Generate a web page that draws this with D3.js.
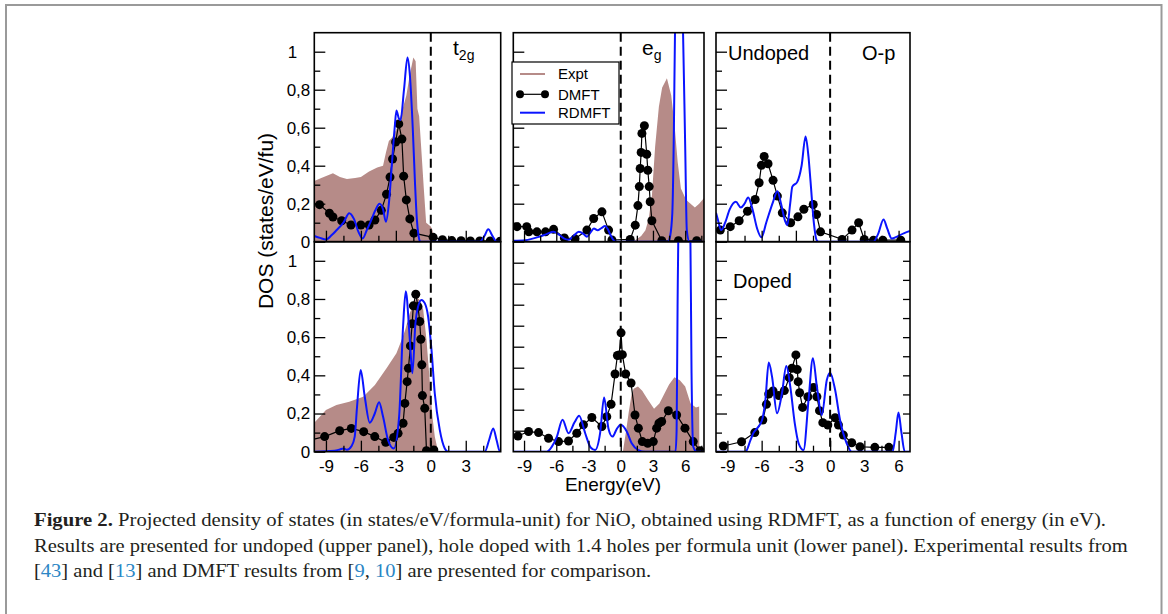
<!DOCTYPE html>
<html>
<head>
<meta charset="utf-8">
<script src="https://cdn.jsdelivr.net/npm/d3@7"></script>
<style>body{margin:0;background:#fff}</style>
</head>
<body>
<script>
// Energy (eV), DOS (states/eV/fu) pairs

// t2g, undoped
const t2gUndopedExpt = [[-10,0.32],[-9.4,0.335],[-8.4,0.36],[-7.8,0.34],[-7.2,0.33],[-6.5,0.335],[-6.0,0.34],[-5.3,0.37],[-4.6,0.39],[-4.1,0.40],[-3.85,0.47],[-3.6,0.53],[-3.3,0.55],[-2.9,0.60],[-2.5,0.68],[-2.1,0.77],[-1.8,0.88],[-1.5,0.97],[-1.3,0.95],[-1.15,0.70],[-1.0,0.66],[-0.85,0.52],[-0.6,0.28],[-0.4,0.10],[0.0,0.08],[0.15,0.06],[0.25,0],[6,0]];
const t2gUndopedRdmft = [[-10,0.03],[-9.5,0.02],[-9.0,0.012],[-8.5,0.035],[-8.1,0.06],[-7.5,0.1],[-7.0,0.15],[-6.6,0.12],[-6.2,0.05],[-5.85,0.017],[-5.5,0.06],[-5.2,0.1],[-4.8,0.16],[-4.4,0.2],[-4.1,0.17],[-3.85,0.105],[-3.6,0.2],[-3.35,0.4],[-3.1,0.6],[-2.95,0.69],[-2.75,0.65],[-2.6,0.64],[-2.3,0.8],[-2.0,0.97],[-1.8,0.88],[-1.55,0.6],[-1.35,0.3],[-1.2,0.12],[-1.05,0.03],[-0.9,0],[4.2,0],[4.6,0.03],[4.93,0.065],[5.3,0.03],[5.65,0],[6,0]];
const t2gUndopedDmft = [[-10.4,0.205],[-9.55,0.195],[-8.7,0.15],[-8.4,0.13],[-7.65,0.11],[-6.85,0.088],[-6.0,0.088],[-5.3,0.088],[-4.8,0.114],[-4.25,0.165],[-3.8,0.25],[-3.5,0.34],[-3.28,0.435],[-3.02,0.525],[-2.75,0.62],[-2.48,0.54],[-2.33,0.345],[-2.1,0.22],[-1.8,0.12],[-1.45,0.045],[0.2,0.023],[1.0,0.01],[1.8,0.006],[2.6,0.005],[3.4,0.004],[4.2,0.004],[5.1,0.004],[5.95,0.003]];

// eg, undoped
const egUndopedExpt = [[-10,0],[1.0,0],[1.4,0.01],[1.9,0.03],[2.3,0.06],[2.6,0.12],[2.9,0.24],[3.2,0.5],[3.55,0.71],[3.85,0.81],[4.3,0.86],[4.7,0.77],[5.0,0.62],[5.3,0.42],[5.6,0.28],[6.1,0.22],[6.5,0.2],[6.9,0.18],[7.3,0.2],[7.75,0.23]];
const egUndopedRdmft = [[-10,0.005],[-8.9,0.008],[-7.6,0.026],[-6.9,0.04],[-6.25,0.052],[-5.7,0.035],[-5.3,0.017],[-4.85,0.01],[-4.4,0.03],[-3.9,0.052],[-3.45,0.04],[-3.15,0.026],[-2.8,0.05],[-2.5,0.07],[-2.15,0.06],[-1.8,0.072],[-1.45,0.082],[-1.2,0.065],[-0.95,0.035],[-0.7,0.01],[-0.5,0],[4.4,0],[4.6,0.03],[4.8,0.15],[4.95,0.6],[5.05,1.1],[5.45,1.7],[5.8,1.1],[6.0,0.5],[6.15,0.06],[6.4,0],[7.75,0]];
const egUndopedDmft = [[-10.4,0.079],[-9.65,0.079],[-8.75,0.079],[-8.55,0.052],[-7.8,0.052],[-7.0,0.052],[-6.25,0.065],[-5.25,0.02],[-4.25,0.015],[-3.15,0.061],[-2.52,0.122],[-1.75,0.157],[-1.13,0.061],[-0.82,0.009],[0.88,0.012],[1.35,0.087],[1.6,0.19],[1.73,0.29],[1.81,0.385],[1.9,0.47],[1.97,0.57],[2.2,0.61],[2.42,0.46],[2.52,0.376],[2.65,0.29],[2.74,0.21],[2.9,0.11],[3.82,0.005],[5.37,0.005],[7.07,0.005]];

// O-p, undoped (no experiment)
const opUndopedRdmft = [[-10,0.152],[-9.85,0.12],[-9.55,0.061],[-9.2,0.1],[-8.8,0.17],[-8.26,0.21],[-7.82,0.18],[-7.5,0.2],[-7.18,0.233],[-6.8,0.17],[-6.4,0.07],[-6.02,0.023],[-5.6,0.1],[-5.0,0.21],[-4.62,0.266],[-4.3,0.2],[-3.95,0.11],[-3.75,0.087],[-3.5,0.2],[-3.31,0.29],[-2.88,0.315],[-2.5,0.4],[-2.15,0.554],[-1.9,0.45],[-1.72,0.32],[-1.42,0.096],[-1.19,0.009],[-1.0,0],[3.8,0],[4.2,0.04],[4.68,0.117],[5.0,0.07],[5.4,0.017],[5.8,0.025],[6.13,0.035],[6.5,0.045],[7,0.056]];
const opUndopedDmft = [[-9.62,0.061],[-8.75,0.079],[-7.97,0.11],[-7.24,0.16],[-6.57,0.222],[-6.22,0.31],[-6.02,0.402],[-5.78,0.449],[-5.44,0.41],[-5.0,0.323],[-4.62,0.24],[-4.19,0.152],[-3.46,0.10],[-2.82,0.131],[-2.3,0.171],[-1.48,0.196],[-1.19,0.143],[-0.84,0.052],[1.05,0.012],[1.92,0.061],[2.5,0.1],[2.99,0.012],[3.8,0.008],[4.62,0.008],[6.19,0.008]];

// t2g, doped
const t2gDopedExpt = [[-10,0.152],[-9,0.218],[-8.1,0.245],[-7,0.262],[-5.8,0.288],[-4.8,0.35],[-3.8,0.437],[-2.95,0.516],[-2.5,0.586],[-2.2,0.638],[-1.8,0.726],[-1.45,0.778],[-1.2,0.81],[-0.95,0.795],[-0.65,0.743],[-0.37,0.586],[-0.1,0.376],[0.14,0.184],[0.34,0.079],[0.63,0],[6,0]];
const t2gDopedRdmft = [[-10,0],[-8.25,0.005],[-7.8,0.012],[-7.5,0.017],[-7.2,0.01],[-6.8,0.03],[-6.53,0.079],[-6.33,0.236],[-6.02,0.428],[-5.67,0.288],[-5.24,0.152],[-4.81,0.2],[-4.44,0.259],[-4.1,0.184],[-3.67,0.061],[-3.18,0.017],[-2.72,0.184],[-2.38,0.656],[-2.15,0.84],[-1.8,0.586],[-1.58,0.411],[-1.32,0.673],[-1.09,0.76],[-0.8,0.795],[-0.52,0.778],[-0.23,0.708],[0.06,0.533],[0.34,0.306],[0.77,0.114],[1.2,0.017],[1.49,0],[4.64,0],[5.0,0.06],[5.36,0.122],[5.65,0.06],[5.93,0],[6,0]];
const t2gDopedDmft = [[-10.4,0.06],[-9.11,0.079],[-7.82,0.11],[-6.82,0.122],[-5.76,0.105],[-4.81,0.079],[-3.87,0.049],[-3.18,0.075],[-2.81,0.096],[-2.38,0.149],[-2.23,0.253],[-2.03,0.367],[-1.92,0.437],[-1.75,0.554],[-1.6,0.67],[-1.5,0.764],[-1.29,0.825],[-1.1,0.76],[-0.95,0.682],[-0.86,0.589],[-0.77,0.455],[-0.72,0.294],[-0.52,0.227],[-0.37,0.005],[0.26,0.009]];

// eg, doped (this panel's axis runs 0..1)
const egDopedExpt = [[-10,0],[0.2,0],[0.5,0.1],[0.75,0.19],[1.0,0.27],[1.2,0.3],[1.6,0.31],[2.0,0.29],[2.5,0.25],[3.1,0.205],[3.6,0.23],[4.0,0.27],[4.5,0.32],[5.0,0.355],[5.5,0.34],[6.0,0.31],[6.5,0.23],[7.0,0.21],[7.3,0.215],[7.32,0],[7.75,0]];
const egDopedRdmft = [[-10,0],[-6.87,0],[-6.41,0.024],[-5.94,0.072],[-5.42,0.152],[-4.86,0.088],[-4.3,0.14],[-3.87,0.171],[-3.31,0.088],[-2.8,0.02],[-2.38,0.008],[-1.92,0.088],[-1.55,0.258],[-1.15,0.112],[-0.77,0.072],[-0.35,0.11],[0,0.128],[0.56,0.096],[1.02,0.04],[1.64,0.008],[2.26,0],[5.1,0],[5.2,0.1],[5.29,0.69],[5.4,1.2],[6.0,1.6],[6.45,1.2],[6.59,0.375],[6.75,0.024],[7.06,0],[7.75,0]];
const egDopedDmft = [[-10.4,0.07],[-9.57,0.075],[-8.58,0.096],[-7.65,0.091],[-6.72,0.064],[-5.79,0.048],[-4.86,0.051],[-4.09,0.088],[-3.47,0.128],[-2.69,0.163],[-1.76,0.12],[-1.3,0.167],[-0.9,0.226],[-0.53,0.37],[-0.31,0.458],[-0.15,0.46],[0.03,0.566],[0.15,0.462],[0.46,0.37],[0.96,0.327],[1.33,0.175],[1.64,0.112],[2.01,0.048],[2.51,0.04],[3.03,0.048],[3.34,0.112],[3.56,0.136],[3.81,0.144],[4.43,0.195],[5.2,0.175],[5.98,0.112],[6.75,0.048],[7.37,0.005]];

// O-p, doped
const opDopedRdmft = [[-10,0],[-7.41,0],[-6.98,0.061],[-6.7,0.1],[-6.4,0.122],[-5.96,0.166],[-5.67,0.271],[-5.38,0.467],[-5.09,0.393],[-4.65,0.201],[-4.22,0.306],[-3.84,0.449],[-3.49,0.341],[-3.1,0.15],[-2.76,0.044],[-2.33,0.009],[-1.89,0.271],[-1.51,0.49],[-1.16,0.341],[-0.73,0.192],[-0.29,0.376],[0,0.414],[0.44,0.323],[0.87,0.166],[1.45,0.044],[1.89,0],[5.47,0],[5.75,0.1],[5.99,0.205],[6.25,0.1],[6.54,0],[7,0]];
const opDopedDmft = [[-9.36,0.03],[-7.76,0.052],[-6.6,0.1],[-5.9,0.166],[-5.58,0.248],[-5.38,0.302],[-5.0,0.318],[-4.5,0.294],[-4.01,0.32],[-3.58,0.388],[-3.34,0.437],[-3.0,0.507],[-2.88,0.43],[-2.8,0.367],[-2.67,0.309],[-2.41,0.232],[-1.95,0.288],[-1.45,0.336],[-1.16,0.288],[-0.93,0.215],[-0.64,0.152],[-0.2,0.14],[0.44,0.178],[0.73,0.14],[1.16,0.087],[1.89,0.047],[2.62,0.026],[3.92,0.023],[5.15,0.023]];

// tick values
const xMajor = [-9, -6, -3, 0, 3, 6];
const xMinor = [-7.5, -4.5, -1.5, 1.5, 4.5, 7.5];
const yMajor = [0, 0.2, 0.4, 0.6, 0.8, 1];
const yMinor = [0.1, 0.3, 0.5, 0.7, 0.9];
const yTenths = [0.1, 0.2, 0.3, 0.4, 0.5, 0.6, 0.7, 0.8, 0.9];

const legendItems = ["Expt", "DMFT", "RDMFT"];

const exptColor = "#b68b88",
      rdColor = "#0a14ff";

let width = 1168, height = 614;
const sans = '"Liberation Sans", Arial, sans-serif';

let svg = d3.select('body').append('svg')
    .attr('width', width)
    .attr('height', height)
    .style('font-family', sans);

// outer figure frame
svg.append('rect')
    .attr('x', 6).attr('y', 5)
    .attr('width', 1155.5).attr('height', 700)
    .attr('fill', 'none')
    .attr('stroke', '#9a9a9a')
    .attr('stroke-width', 2);

// panel geometry
const cols = [
    {left: 314.3, right: 500.7, dom: [-10, 6]},
    {left: 513.3, right: 704, dom: [-10, 7.75]},
    {left: 716, right: 910, dom: [-10, 7]}
];
const rows = [{top: 32.7, bottom: 241.7}, {top: 241.7, bottom: 451.7}];

const panels = [
    {row: 0, col: 0, expt: t2gUndopedExpt, rd: t2gUndopedRdmft, dmft: t2gUndopedDmft, yMax: 1.1},
    {row: 0, col: 1, expt: egUndopedExpt, rd: egUndopedRdmft, dmft: egUndopedDmft, yMax: 1.1},
    {row: 0, col: 2, expt: null, rd: opUndopedRdmft, dmft: opUndopedDmft, yMax: 1.1},
    {row: 1, col: 0, expt: t2gDopedExpt, rd: t2gDopedRdmft, dmft: t2gDopedDmft, yMax: 1.1},
    {row: 1, col: 1, expt: egDopedExpt, rd: egDopedRdmft, dmft: egDopedDmft, yMax: 1.0, tenths: true},
    {row: 1, col: 2, expt: null, rd: opDopedRdmft, dmft: opDopedDmft, yMax: 1.1, rightTicks: true}
];

const fmtY = d => d === 0 ? '0' : d === 1 ? '1' : d3.format('.1f')(d).replace('.', ',');

function styleAxis(g) {
    g.select('.domain').remove();
    g.selectAll('.tick line').attr('stroke', '#000').attr('stroke-width', 1.3);
    g.selectAll('.tick text').attr('fill', '#000');
    g.attr('font-size', 17).attr('font-family', sans);
}

panels.forEach((p, i) => {
    const c = cols[p.col], r = rows[p.row];
    const x = d3.scaleLinear().domain(c.dom).range([c.left, c.right]);
    const y = d3.scaleLinear().domain([0, p.yMax]).range([r.bottom, r.top]);

    svg.append('clipPath').attr('id', 'clip' + i)
        .append('rect')
        .attr('x', c.left).attr('y', r.top)
        .attr('width', c.right - c.left).attr('height', r.bottom - r.top);

    const g = svg.append('g').attr('clip-path', `url(#clip${i})`);

    // experiment, shaded
    if (p.expt) {
        g.append('path')
            .datum(p.expt)
            .attr('d', d3.area().x(d => x(d[0])).y0(y(0)).y1(d => y(d[1])))
            .attr('fill', exptColor);
    }

    // DMFT, line + dots
    g.append('path')
        .datum(p.dmft)
        .attr('d', d3.line().x(d => x(d[0])).y(d => y(d[1])))
        .attr('fill', 'none')
        .attr('stroke', '#000')
        .attr('stroke-width', 1.2);
    g.selectAll('circle.dm')
        .data(p.dmft)
        .enter().append('circle')
        .attr('class', 'dm')
        .attr('cx', d => x(d[0]))
        .attr('cy', d => y(d[1]))
        .attr('r', 4.5)
        .attr('fill', '#000');

    // RDMFT, smooth line
    g.append('path')
        .datum(p.rd)
        .attr('d', d3.line().x(d => x(d[0])).y(d => y(d[1])).curve(d3.curveMonotoneX))
        .attr('fill', 'none')
        .attr('stroke', rdColor)
        .attr('stroke-width', 2);

    // Fermi level
    svg.append('line')
        .attr('x1', x(0)).attr('x2', x(0))
        .attr('y1', r.top).attr('y2', r.bottom)
        .attr('stroke', '#000')
        .attr('stroke-width', 2)
        .attr('stroke-dasharray', '9,5');

    // x ticks (inside), labels on the lower row only
    const xm = xMajor.filter(v => v > c.dom[0] && v < c.dom[1]);
    svg.append('g')
        .attr('transform', `translate(0,${r.bottom})`)
        .call(d3.axisBottom(x).tickValues(xm).tickSize(-11).tickPadding(8)
            .tickFormat(d => p.row === 1 ? String(d) : ''))
        .call(styleAxis);
    svg.append('g')
        .attr('transform', `translate(0,${r.bottom})`)
        .call(d3.axisBottom(x).tickValues(xMinor.filter(v => v > c.dom[0] && v < c.dom[1]))
            .tickSize(-6).tickFormat(''))
        .call(styleAxis);

    // y ticks (inside), labels on the left column only
    if (p.tenths) {
        svg.append('g')
            .attr('transform', `translate(${c.left},0)`)
            .call(d3.axisLeft(y).tickValues(yTenths).tickSize(-11).tickFormat(''))
            .call(styleAxis);
    } else {
        const ya = svg.append('g')
            .attr('transform', `translate(${c.left},0)`)
            .call(d3.axisLeft(y).tickValues(yMajor).tickSize(-11).tickPadding(4)
                .tickFormat(d => p.col === 0 ? fmtY(d) : ''))
            .call(styleAxis);
        ya.selectAll('.tick text').filter(d => d === 1).attr('dx', -13);
        svg.append('g')
            .attr('transform', `translate(${c.left},0)`)
            .call(d3.axisLeft(y).tickValues(yMinor).tickSize(-6).tickFormat(''))
            .call(styleAxis);
    }
    if (p.rightTicks) {
        svg.append('g')
            .attr('transform', `translate(${c.right},0)`)
            .call(d3.axisRight(y).tickValues(yMinor.concat(yMajor.slice(1))).tickSize(-7).tickFormat(''))
            .call(styleAxis);
    }

    // frame
    svg.append('rect')
        .attr('x', c.left).attr('y', r.top)
        .attr('width', c.right - c.left).attr('height', r.bottom - r.top)
        .attr('fill', 'none')
        .attr('stroke', '#000')
        .attr('stroke-width', 1.6);
});

// panel labels
const labels = [
    {x: 453, y: 55, main: 't', sub: '2g', size: 21},
    {x: 642, y: 55, main: 'e', sub: 'g', size: 21},
    {x: 728, y: 59.5, main: 'Undoped', size: 20},
    {x: 862, y: 59.5, main: 'O-p', size: 20},
    {x: 733, y: 288, main: 'Doped', size: 20}
];
labels.forEach(l => {
    const t = svg.append('text')
        .attr('x', l.x).attr('y', l.y)
        .attr('font-size', l.size)
        .attr('fill', '#000');
    t.append('tspan').text(l.main);
    if (l.sub) t.append('tspan').attr('font-size', 14).attr('dy', 5).text(l.sub);
});

// legend
const legend = svg.append('g');
legend.append('rect')
    .attr('x', 512).attr('y', 62)
    .attr('width', 107).attr('height', 62)
    .attr('fill', '#fff')
    .attr('stroke', '#000')
    .attr('stroke-width', 1.2);
const legY = [74, 94.3, 112.7];
legendItems.forEach((name, i) => {
    const ly = legY[i];
    const col = i === 0 ? exptColor : i === 1 ? '#000' : rdColor;
    legend.append('line')
        .attr('x1', 520).attr('x2', 545)
        .attr('y1', ly).attr('y2', ly)
        .attr('stroke', col)
        .attr('stroke-width', i === 1 ? 1.2 : 2);
    if (i === 1) {
        [520, 545].forEach(cx => legend.append('circle')
            .attr('cx', cx).attr('cy', ly).attr('r', 4).attr('fill', '#000'));
    }
    legend.append('text')
        .attr('x', 558).attr('y', ly)
        .attr('dy', '0.35em')
        .attr('font-size', 15)
        .text(name);
});

// axis titles
svg.append('text')
    .attr('x', 613).attr('y', 491)
    .attr('text-anchor', 'middle')
    .attr('font-size', 19)
    .text('Energy(eV)');

svg.append('text')
    .attr('transform', 'translate(273,221) rotate(-90)')
    .attr('text-anchor', 'middle')
    .attr('font-size', 21)
    .text('DOS (states/eV/fu)');

// caption
const refBlue = '#2b86c5';
const capLines = [
    [{t: 'Figure 2.', b: true}, {t: ' Projected density of states (in states/eV/formula-unit) for NiO, obtained using RDMFT, as a function of energy (in eV).'}],
    [{t: 'Results are presented for undoped (upper panel), hole doped with 1.4 holes per formula unit (lower panel). Experimental results from'}],
    [{t: '['}, {t: '43', c: refBlue}, {t: '] and ['}, {t: '13', c: refBlue}, {t: '] and DMFT results from ['},
     {t: '9', c: refBlue}, {t: ', '}, {t: '10', c: refBlue}, {t: '] are presented for comparison.'}]
];
const capY = [526, 552, 577];
const capW = [1073, 1094, null];
let lastScale = 1;
capLines.forEach((parts, i) => {
    const t = svg.append('text')
        .attr('font-family', '"Liberation Serif", "DejaVu Serif", serif')
        .attr('font-size', 18)
        .attr('fill', '#231f20');
    parts.forEach(p => t.append('tspan')
        .text(p.t)
        .attr('font-weight', p.b ? 'bold' : null)
        .attr('fill', p.c || null));
    const w = t.node().getComputedTextLength();
    const sx = capW[i] ? capW[i] / w : lastScale;
    lastScale = sx;
    t.attr('transform', `translate(34,${capY[i]}) scale(${sx},1)`);
});
</script>
</body>
</html>
